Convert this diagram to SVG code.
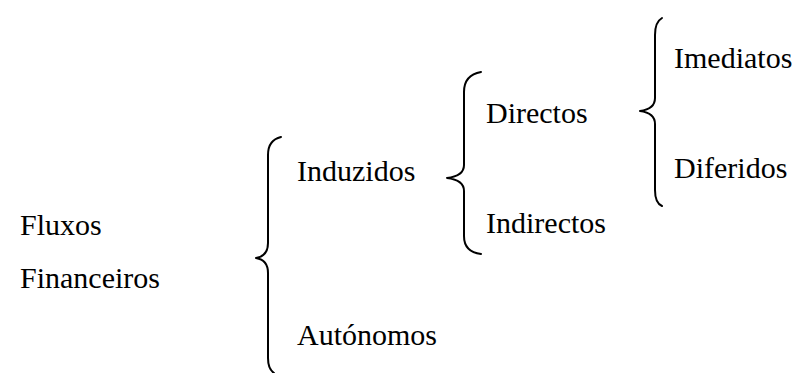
<svg xmlns="http://www.w3.org/2000/svg" width="803" height="373" viewBox="0 0 803 373">
<style>
text{font-family:'Liberation Serif','Times New Roman','DejaVu Serif',Times,serif;font-size:30px;fill:#000}
.brace{fill:none;stroke:#000;stroke-width:2;stroke-linecap:round;stroke-linejoin:round}
</style>
<rect width="803" height="373" fill="#fff"/>
<g id="connectors">
<path class="brace" d="M281,137 Q268,140 268,155 L268,243 Q268,256 256,258 Q268,260 268,273 L268,358 Q268,369 274,373"/>
<path class="brace" d="M481,72 Q464,75 464,92 L464,165 Q464,176 447,178 Q464,180 464,191 L464,236 Q464,252 481,254"/>
<path class="brace" d="M662,18 Q655,22 655,35 L655,98 Q655,109 640,111 Q655,113 655,124 L655,190 Q655,203 662,206"/>
</g>
<g id="n-fluxos"><text x="20" y="235">Fluxos</text><text x="20" y="288">Financeiros</text></g>
<g id="n-induzidos"><text x="297" y="181">Induzidos</text></g>
<g id="n-autonomos"><text x="297" y="345">Autónomos</text></g>
<g id="n-directos"><text x="486" y="123">Directos</text></g>
<g id="n-indirectos"><text x="486" y="233">Indirectos</text></g>
<g id="n-imediatos"><text x="674" y="68">Imediatos</text></g>
<g id="n-diferidos"><text x="674" y="178">Diferidos</text></g>
</svg>
